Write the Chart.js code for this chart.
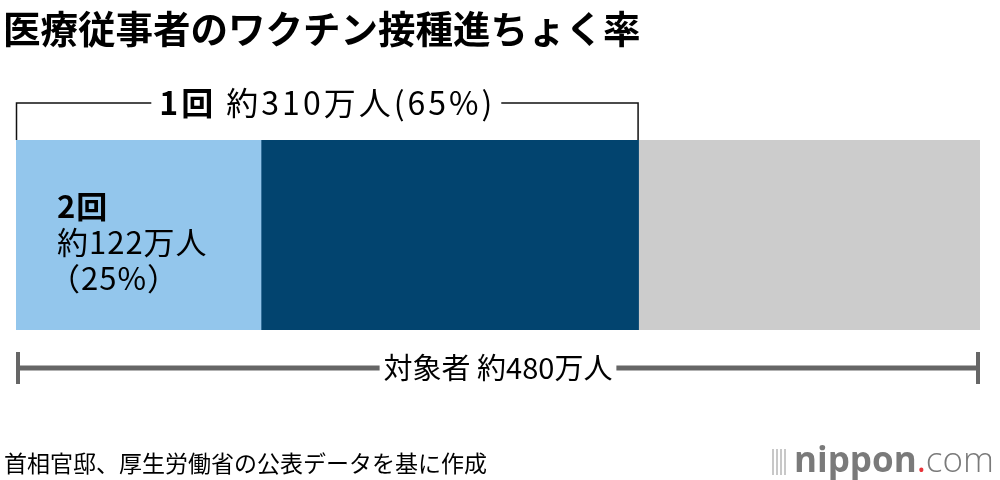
<!DOCTYPE html>
<html>
<head>
<meta charset="utf-8">
<script src="https://cdn.jsdelivr.net/npm/chart.js@4"></script>
<style>
  body { margin: 0; background: #fff; font-family: "Noto Sans CJK JP", sans-serif; }
  #wrap { position: relative; width: 1000px; height: 480px; overflow: hidden; }
  #title { position: absolute; left: 3px; top: 3px; font-size: 37.5px; font-weight: bold; color: #000; line-height: 48px; }
  #source { position: absolute; left: 4px; top: 447px; font-size: 23px; color: #000; line-height: 30px; }
  #logo { position: absolute; left: 772px; top: 437px; font-size: 35px; color: #7a7a7a; line-height: 44px; font-family: "Open Sans", sans-serif; }
  #logo b { font-weight: 700; }
  #logo .dot { color: #e8343a; }
  #logo .com { font-weight: 300; }
  #logo .bars { display: inline-block; width: 16px; height: 26px; margin-right: 6px; vertical-align: -3px;
    background: repeating-linear-gradient(90deg, #c8c8c8 0 2px, transparent 2px 4px); }
  canvas { position: absolute; left: 0; top: 0; }
</style>
</head>
<body>
<div id="wrap">
  <canvas id="chartStuff" width="1000" height="480"></canvas>
  <div id="title">医療従事者のワクチン接種進ちょく率</div>
  <div id="source">首相官邸、厚生労働省の公表データを基に作成</div>
  <div id="logo"><span class="bars"></span><b>nippon</b><span class="dot">.</span><span class="com">com</span></div>
</div>
<script>
// values in 万人
var total = 480;
var firstDose = 310;
var secondDose = 122;
var firstPct = 65;
var secondPct = 25;

var segLabels = ["2回", "1回のみ", "未接種"];
var segValues = [secondDose, firstDose - secondDose, total - firstDose];
var segColors = ["#93c6ec", "#02446f", "#cccccc"];

var myChart;

// brackets + labels drawn off the x scale
var bracketPlugin = {
  id: "brackets",
  afterDatasetsDraw: function(chart) {
    var ctx = chart.ctx;
    var xs = chart.scales.x;
    var area = chart.chartArea;
    var x0 = xs.getPixelForValue(0);
    var x1 = xs.getPixelForValue(firstDose);
    var x2 = xs.getPixelForValue(total);
    ctx.save();
    ctx.letterSpacing = "3px";

    // top bracket: 1回
    var ty = area.top - 37;
    ctx.font = "bold 32px 'Noto Sans CJK JP'";
    var t1 = "1回";
    var w1 = ctx.measureText(t1).width;
    ctx.font = "32px 'Noto Sans CJK JP'";
    var t2 = " 約" + firstDose + "万人(" + firstPct + "%)";
    var w2 = ctx.measureText(t2).width;
    var tw = w1 + w2;
    var cx = (x0 + x1) / 2;
    var tx = cx - tw / 2;
    ctx.strokeStyle = "#111";
    ctx.lineWidth = 1.5;
    ctx.beginPath();
    ctx.moveTo(x0 + 0.5, area.top);
    ctx.lineTo(x0 + 0.5, ty);
    ctx.lineTo(tx - 8, ty);
    ctx.moveTo(tx + tw + 6, ty);
    ctx.lineTo(x1 - 0.5, ty);
    ctx.lineTo(x1 - 0.5, area.top);
    ctx.stroke();
    ctx.fillStyle = "#000";
    ctx.textBaseline = "middle";
    ctx.textAlign = "left";
    ctx.font = "bold 32px 'Noto Sans CJK JP'";
    ctx.fillText(t1, tx, ty);
    ctx.font = "32px 'Noto Sans CJK JP'";
    ctx.fillText(t2, tx + w1, ty);

    // bottom bracket: 対象者
    var by = area.bottom + 38;
    ctx.letterSpacing = "0px";
    ctx.font = "29px 'Noto Sans CJK JP'";
    var t3 = "対象者 約" + total + "万人";
    var w3 = ctx.measureText(t3).width;
    var bcx = (x0 + x2) / 2;
    ctx.strokeStyle = "#666";
    ctx.lineWidth = 5;
    ctx.beginPath();
    ctx.moveTo(x0, by);
    ctx.lineTo(bcx - w3 / 2 - 4, by);
    ctx.moveTo(bcx + w3 / 2 + 4, by);
    ctx.lineTo(x2, by);
    ctx.stroke();
    ctx.lineWidth = 4;
    ctx.beginPath();
    ctx.moveTo(x0 + 2, by - 16);
    ctx.lineTo(x0 + 2, by + 16);
    ctx.moveTo(x2 - 2, by - 16);
    ctx.lineTo(x2 - 2, by + 16);
    ctx.stroke();
    ctx.fillStyle = "#000";
    ctx.textAlign = "center";
    ctx.fillText(t3, bcx, by);

    // label inside the 2回 segment
    ctx.textAlign = "left";
    ctx.letterSpacing = "1px";
    var lx = x0 + 41;
    ctx.font = "bold 31px 'Noto Sans CJK JP'";
    ctx.fillText("2回", lx, area.top + 66);
    ctx.font = "31px 'Noto Sans CJK JP'";
    ctx.fillText("約" + secondDose + "万人", lx, area.top + 102);
    ctx.fillText("（" + secondPct + "%）", lx - 8, area.top + 138);
    ctx.restore();
  }
};

var ctx = document.getElementById("chartStuff").getContext("2d");
myChart = new Chart(ctx, {
  type: "bar",
  data: {
    labels: ["医療従事者"],
    datasets: segLabels.map(function(l, i) {
      return {
        label: l,
        data: [segValues[i]],
        backgroundColor: segColors[i],
        borderWidth: 0,
        barPercentage: 1,
        categoryPercentage: 1
      };
    })
  },
  options: {
    indexAxis: "y",
    responsive: false,
    animation: false,
    layout: { padding: { left: 16, right: 20, top: 140, bottom: 150 } },
    plugins: { legend: { display: false }, tooltip: { enabled: false } },
    scales: {
      x: { stacked: true, min: 0, max: total, display: false },
      y: { stacked: true, display: false }
    }
  },
  plugins: [bracketPlugin]
});
</script>
</body>
</html>
